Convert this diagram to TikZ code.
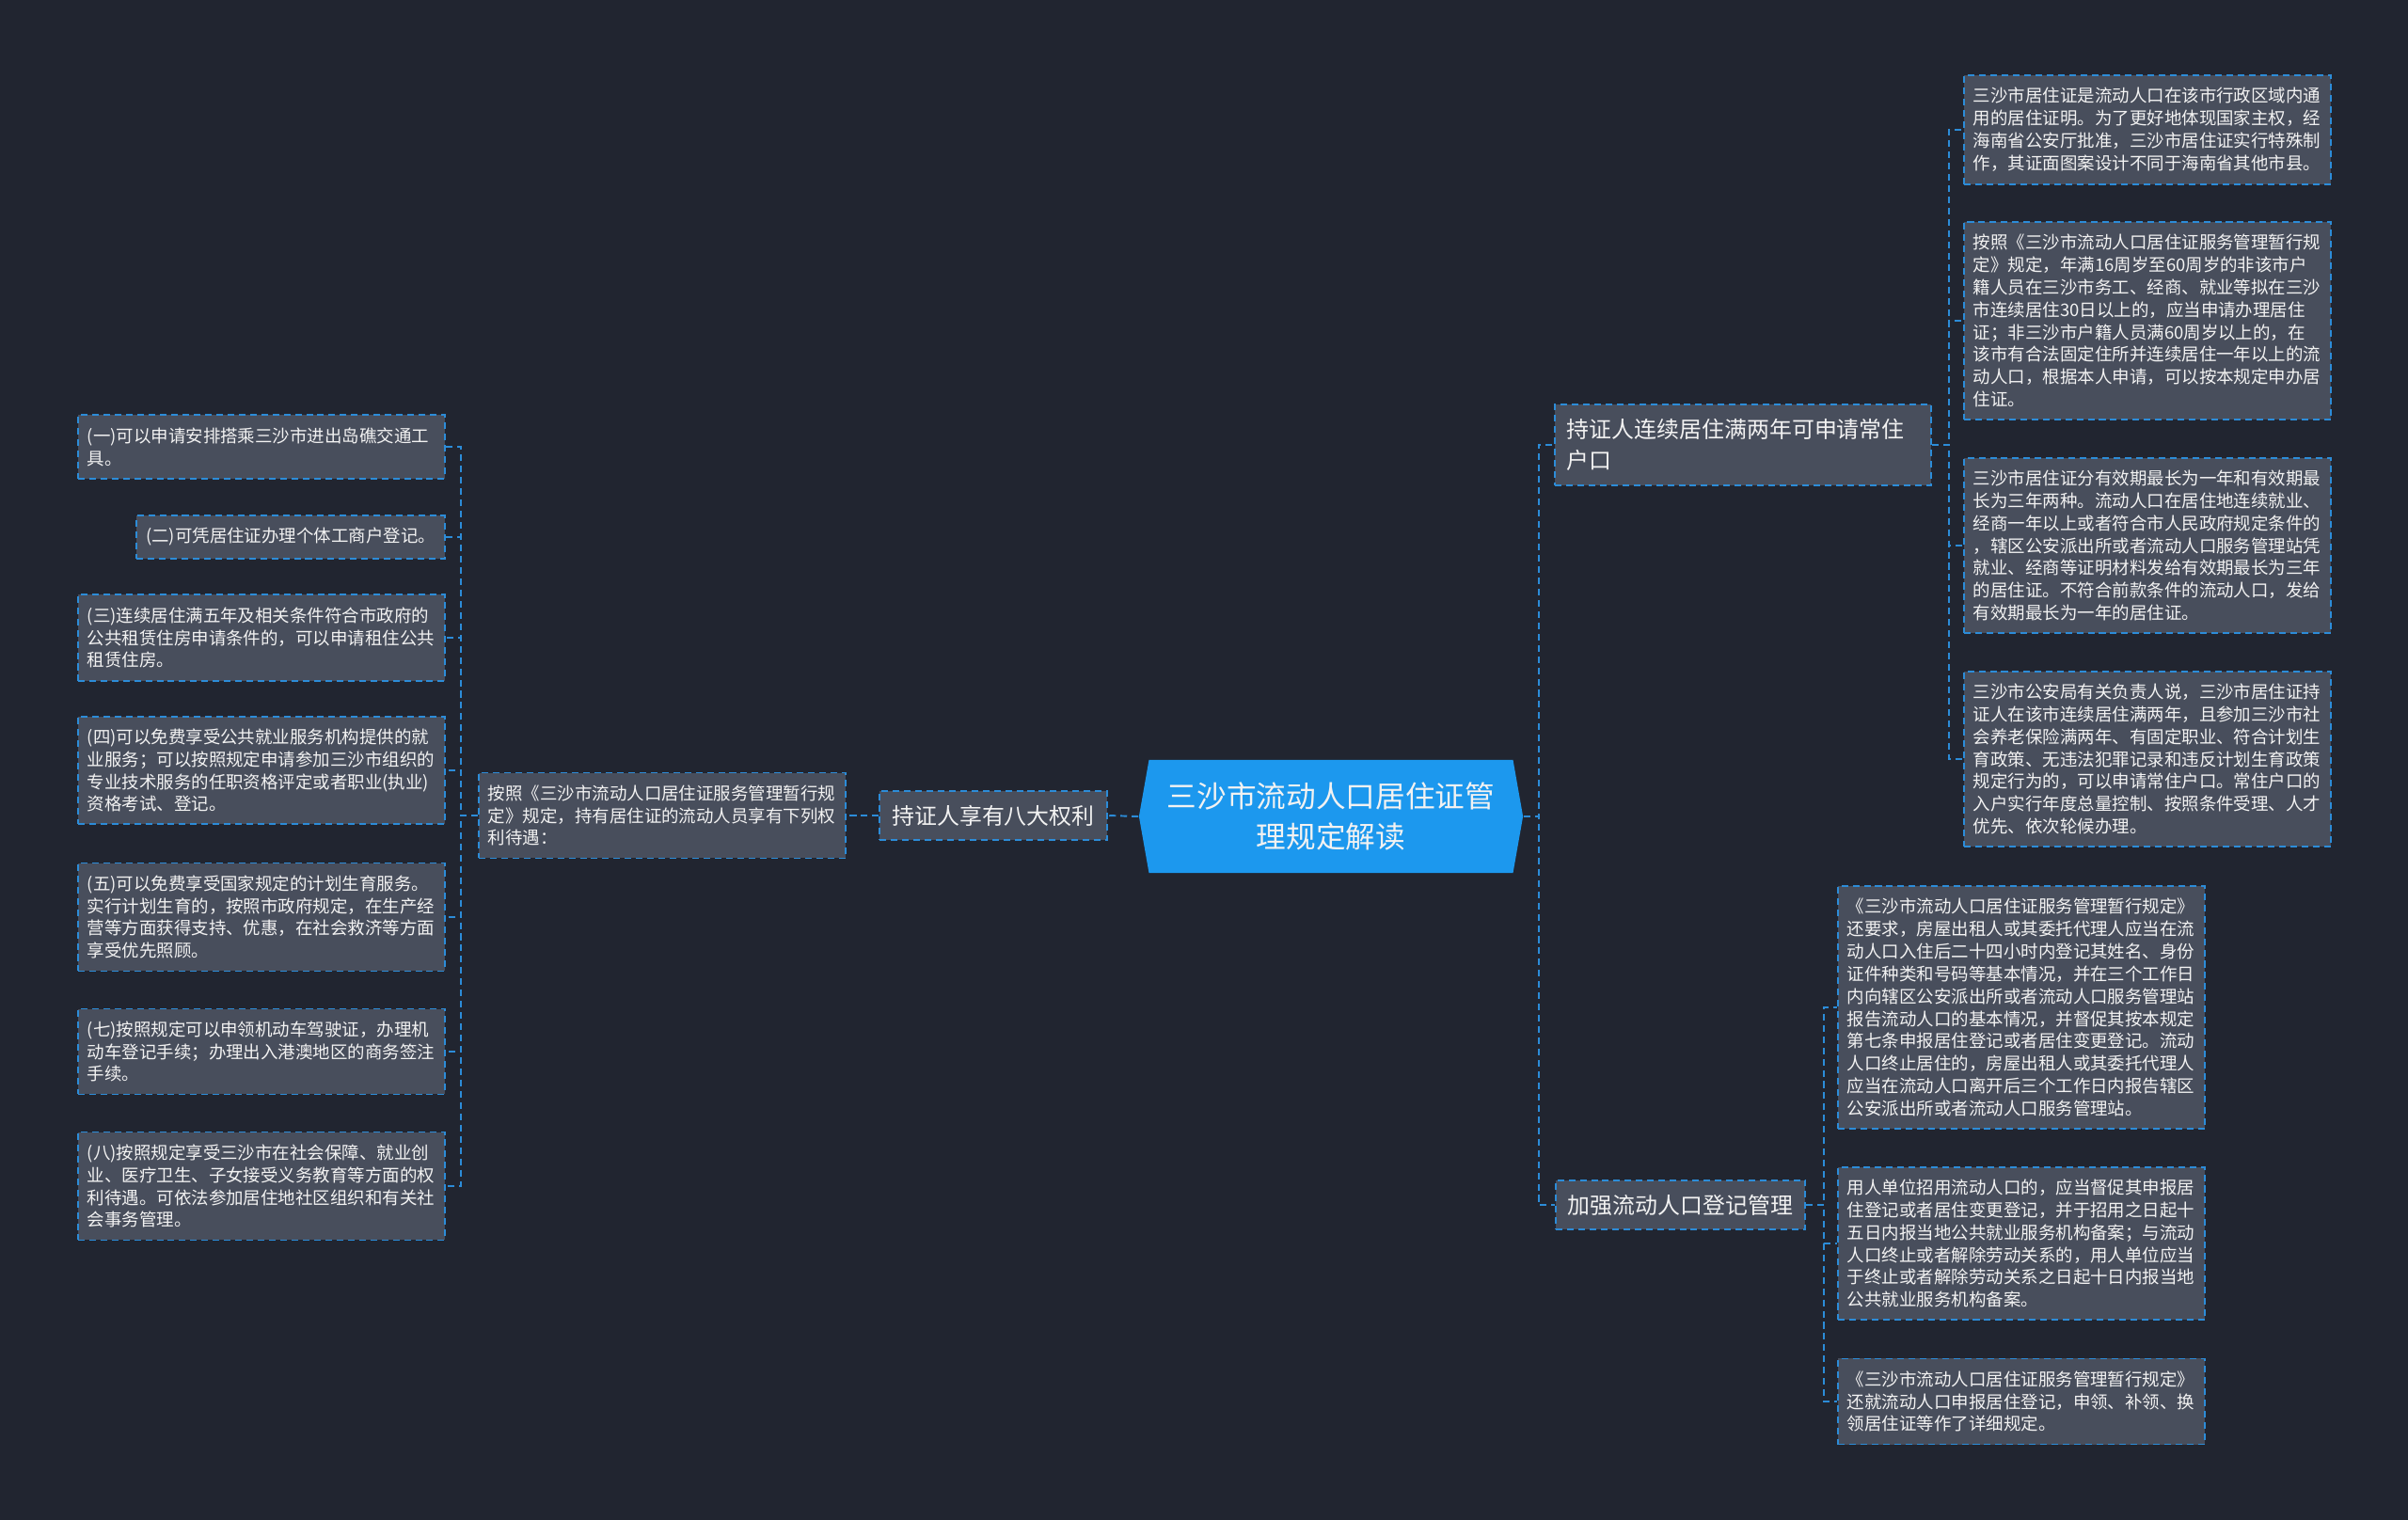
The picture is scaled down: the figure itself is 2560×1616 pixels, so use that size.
\documentclass[tikz,border=0pt]{standalone}
\usepackage{fontspec}
\setmainfont{Noto Sans CJK SC}
\usepackage{tikz}
\usetikzlibrary{shapes.symbols}
\definecolor{bg}{RGB}{33,37,48}
\definecolor{boxfill}{RGB}{72,78,92}
\definecolor{edge}{RGB}{44,140,216}
\definecolor{hubblue}{RGB}{28,152,238}
\definecolor{ink}{RGB}{242,242,242}
\tikzset{
  hub/.style={signal, signal to=west and east, signal pointer angle=160, fill=hubblue, text=ink,
    align=center, minimum width=4.08cm, minimum height=1.2cm, inner sep=0pt, font=\fontsize{9}{12}\selectfont},
  note/.style={draw=edge, fill=boxfill, dash pattern=on 2pt off 1.4pt, line width=0.55pt, text=ink,
    align=left, inner xsep=0.1cm, inner ysep=0.13cm, font=\fontsize{5.25}{6.8}\selectfont},
  leaf/.style={note, text width=3.7cm},
  branch/.style={note, inner xsep=0.13cm, inner ysep=0.15cm, font=\fontsize{6.8}{9.4}\selectfont},
  link/.style={draw=edge, dash pattern=on 2pt off 1.4pt, line width=0.55pt}
}
\begin{document}
\begin{tikzpicture}[x=0.01cm, y=-0.01cm]
  \fill[bg] (0,0) rectangle (2560,1616);
  \node[hub] (root) at (1415,868) {三沙市流动人口居住证管\\理规定解读};

  \node[branch] (rights) at (1056,867) {持证人享有八大权利};
  \node[leaf] (intro) at (704,867) {按照《三沙市流动人口居住证服务管理暂行规\\定》规定，持有居住证的流动人员享有下列权\\利待遇：};
  \node[leaf, anchor=east] (r1) at (474,475) {(一)可以申请安排搭乘三沙市进出岛礁交通工\\具。};
  \node[note, anchor=east] (r2) at (474,571) {(二)可凭居住证办理个体工商户登记。};
  \node[leaf, anchor=east] (r3) at (474,678) {(三)连续居住满五年及相关条件符合市政府的\\公共租赁住房申请条件的，可以申请租住公共\\租赁住房。};
  \node[leaf, anchor=east] (r4) at (474,819) {(四)可以免费享受公共就业服务机构提供的就\\业服务；可以按照规定申请参加三沙市组织的\\专业技术服务的任职资格评定或者职业(执业)\\资格考试、登记。};
  \node[leaf, anchor=east] (r5) at (474,975) {(五)可以免费享受国家规定的计划生育服务。\\实行计划生育的，按照市政府规定，在生产经\\营等方面获得支持、优惠，在社会救济等方面\\享受优先照顾。};
  \node[leaf, anchor=east] (r7) at (474,1118) {(七)按照规定可以申领机动车驾驶证，办理机\\动车登记手续；办理出入港澳地区的商务签注\\手续。};
  \node[leaf, anchor=east] (r8) at (474,1261) {(八)按照规定享受三沙市在社会保障、就业创\\业、医疗卫生、子女接受义务教育等方面的权\\利待遇。可依法参加居住地社区组织和有关社\\会事务管理。};

  \node[branch, anchor=west, text width=3.74cm] (hukou) at (1652,473) {持证人连续居住满两年可申请常住\\户口};
  \node[leaf, anchor=west] (hk1) at (2087,138) {三沙市居住证是流动人口在该市行政区域内通\\用的居住证明。为了更好地体现国家主权，经\\海南省公安厅批准，三沙市居住证实行特殊制\\作，其证面图案设计不同于海南省其他市县。};
  \node[leaf, anchor=west] (hk2) at (2087,341) {按照《三沙市流动人口居住证服务管理暂行规\\定》规定，年满16周岁至60周岁的非该市户\\籍人员在三沙市务工、经商、就业等拟在三沙\\市连续居住30日以上的，应当申请办理居住\\证；非三沙市户籍人员满60周岁以上的，在\\该市有合法固定住所并连续居住一年以上的流\\动人口，根据本人申请，可以按本规定申办居\\住证。};
  \node[leaf, anchor=west] (hk3) at (2087,580) {三沙市居住证分有效期最长为一年和有效期最\\长为三年两种。流动人口在居住地连续就业、\\经商一年以上或者符合市人民政府规定条件的\\，辖区公安派出所或者流动人口服务管理站凭\\就业、经商等证明材料发给有效期最长为三年\\的居住证。不符合前款条件的流动人口，发给\\有效期最长为一年的居住证。};
  \node[leaf, anchor=west] (hk4) at (2087,807) {三沙市公安局有关负责人说，三沙市居住证持\\证人在该市连续居住满两年，且参加三沙市社\\会养老保险满两年、有固定职业、符合计划生\\育政策、无违法犯罪记录和违反计划生育政策\\规定行为的，可以申请常住户口。常住户口的\\入户实行年度总量控制、按照条件受理、人才\\优先、依次轮候办理。};

  \node[branch, anchor=west] (reg) at (1653,1281) {加强流动人口登记管理};
  \node[leaf, anchor=west] (rg1) at (1953,1071) {《三沙市流动人口居住证服务管理暂行规定》\\还要求，房屋出租人或其委托代理人应当在流\\动人口入住后二十四小时内登记其姓名、身份\\证件种类和号码等基本情况，并在三个工作日\\内向辖区公安派出所或者流动人口服务管理站\\报告流动人口的基本情况，并督促其按本规定\\第七条申报居住登记或者居住变更登记。流动\\人口终止居住的，房屋出租人或其委托代理人\\应当在流动人口离开后三个工作日内报告辖区\\公安派出所或者流动人口服务管理站。};
  \node[leaf, anchor=west] (rg2) at (1953,1322) {用人单位招用流动人口的，应当督促其申报居\\住登记或者居住变更登记，并于招用之日起十\\五日内报当地公共就业服务机构备案；与流动\\人口终止或者解除劳动关系的，用人单位应当\\于终止或者解除劳动关系之日起十日内报当地\\公共就业服务机构备案。};
  \node[leaf, anchor=west] (rg3) at (1953,1490) {《三沙市流动人口居住证服务管理暂行规定》\\还就流动人口申报居住登记，申领、补领、换\\领居住证等作了详细规定。};

  \draw[link] (root.west) -- (rights.east);
  \draw[link] (rights.west) -- (intro.east);
  \foreach \n in {r1,r2,r3,r4,r5,r7,r8}
    \draw[link] (intro.west) -- ++(-18,0) |- (\n.east);
  \foreach \n in {hukou,reg}
    \draw[link] (root.east) -- ++(16,0) |- (\n.west);
  \foreach \n in {hk1,hk2,hk3,hk4}
    \draw[link] (hukou.east) -- ++(18,0) |- (\n.west);
  \foreach \n in {rg1,rg2,rg3}
    \draw[link] (reg.east) -- ++(19,0) |- (\n.west);
\end{tikzpicture}
\end{document}
